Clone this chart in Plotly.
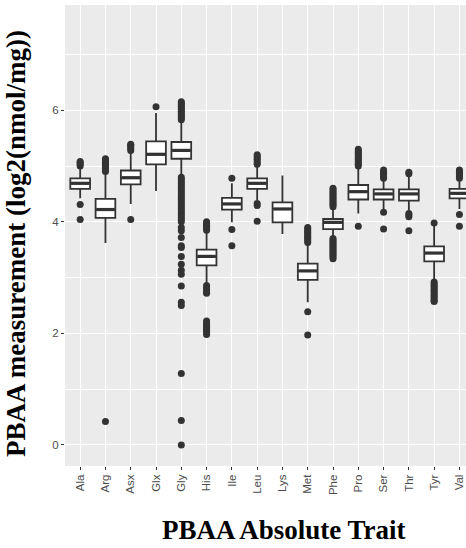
import plotly.graph_objects as go

categories = ["Ala", "Arg", "Asx", "Glx", "Gly", "His", "Ile", "Leu",
              "Lys", "Met", "Phe", "Pro", "Ser", "Thr", "Tyr", "Val"]

q1 =     [4.59, 4.07, 4.67, 5.03, 5.13, 3.22, 4.22, 4.59, 3.99, 2.96, 3.87, 4.40, 4.40, 4.38, 3.29, 4.42]
median = [4.69, 4.22, 4.79, 5.21, 5.28, 3.38, 4.32, 4.69, 4.23, 3.12, 3.99, 4.54, 4.50, 4.50, 3.44, 4.51]
q3 =     [4.78, 4.41, 4.92, 5.44, 5.43, 3.50, 4.43, 4.78, 4.35, 3.25, 4.05, 4.66, 4.58, 4.58, 3.56, 4.59]
lower =  [4.42, 3.62, 4.32, 4.55, 4.85, 2.88, 3.99, 4.38, 3.78, 2.56, 3.73, 4.15, 4.23, 4.20, 2.95, 4.23]
upper =  [4.96, 4.88, 5.25, 5.95, 5.78, 3.82, 4.69, 5.00, 4.83, 3.60, 4.22, 4.95, 4.76, 4.82, 3.93, 4.76]

outliers = {
    "Ala": [5.00, 5.03, 5.06, 5.08, 4.31, 4.04],
    "Arg": [4.90, 4.93, 4.96, 4.99, 5.02, 5.05, 5.08, 5.11, 5.13, 0.42],
    "Asx": [5.28, 5.31, 5.34, 5.37, 5.39, 4.04],
    "Glx": [6.06],
    "Gly": [5.83, 5.86, 5.89, 5.92, 5.95, 5.98, 6.01, 6.04, 6.07, 6.10, 6.13, 6.15,
            4.80, 4.76, 4.72, 4.68, 4.64, 4.60, 4.56, 4.52, 4.48, 4.44, 4.40,
            4.36, 4.32, 4.28, 4.24, 4.20, 4.16, 4.12, 4.08, 4.04, 4.00,
            3.90, 3.84, 3.72, 3.57, 3.54, 3.38, 3.24, 3.13, 3.06, 2.85, 2.56, 2.50,
            1.28, 0.44, 0.00],
    "His": [3.85, 3.88, 3.91, 3.94, 3.97, 4.00,
            2.86, 2.82, 2.78, 2.74, 2.72,
            2.22, 2.19, 2.16, 2.13, 2.10, 2.07, 2.04, 2.01, 1.98],
    "Ile": [4.78, 3.86, 3.57],
    "Leu": [5.03, 5.06, 5.09, 5.12, 5.15, 5.18, 5.20, 4.33, 4.29, 4.01],
    "Lys": [],
    "Met": [3.63, 3.66, 3.69, 3.72, 3.75, 3.78, 3.81, 3.84, 3.87, 3.90, 2.39, 1.97],
    "Phe": [4.27, 4.30, 4.33, 4.36, 4.39, 4.42, 4.45, 4.48, 4.51, 4.54, 4.57, 4.60,
            3.70, 3.67, 3.64, 3.61, 3.58, 3.55, 3.52, 3.49, 3.46, 3.43, 3.40, 3.37, 3.34],
    "Pro": [5.00, 5.03, 5.06, 5.09, 5.12, 5.15, 5.18, 5.21, 5.24, 5.27, 5.30, 3.92],
    "Ser": [4.78, 4.81, 4.84, 4.87, 4.90, 4.93, 4.17, 3.87],
    "Thr": [4.86, 4.89, 4.15, 4.12, 4.09, 3.84],
    "Tyr": [3.98, 2.92, 2.89, 2.86, 2.83, 2.80, 2.77, 2.74, 2.71, 2.68, 2.65,
            2.62, 2.59, 2.57],
    "Val": [4.78, 4.81, 4.84, 4.87, 4.90, 4.93, 4.13, 3.92],
}

BOX_W = 0.78
DARK = "#333333"
pos = list(range(len(categories)))

fig = go.Figure()

fig.add_trace(go.Box(
    x=pos, q1=q1, median=median, q3=q3,
    lowerfence=lower, upperfence=upper,
    width=BOX_W, whiskerwidth=0,
    fillcolor="white", line=dict(color=DARK, width=1.8),
    boxpoints=False, showlegend=False, hoverinfo="skip",
))

# thicker median lines (ggplot fatten)
mx, my = [], []
for i, m in zip(pos, median):
    mx += [i - BOX_W / 2 + 0.03, i + BOX_W / 2 - 0.03, None]
    my += [m, m, None]
fig.add_trace(go.Scatter(x=mx, y=my, mode="lines",
                         line=dict(color=DARK, width=3.2),
                         showlegend=False, hoverinfo="skip"))

ox, oy = [], []
for i, c in enumerate(categories):
    for v in outliers[c]:
        ox.append(i)
        oy.append(v)
fig.add_trace(go.Scatter(x=ox, y=oy, mode="markers",
                         marker=dict(color=DARK, size=7, line=dict(width=0)),
                         showlegend=False, hoverinfo="skip"))

tickfont = dict(family="Liberation Sans, Arial, sans-serif", size=11.5, color="#4D4D4D")
titlefont = dict(family="Liberation Serif, Times New Roman, serif", size=27, color="black")

fig.update_layout(
    width=466, height=548,
    margin=dict(l=65, r=0, t=5, b=82, autoexpand=False),
    paper_bgcolor="white", plot_bgcolor="#EBEBEB",
    xaxis=dict(
        range=[-0.6, 15.26], tickmode="array", tickvals=pos, ticktext=categories,
        tickangle=-90, ticks="outside", ticklen=3, tickwidth=1, tickcolor=DARK,
        showgrid=True, gridcolor="white", gridwidth=1.1, zeroline=False,
        showline=False, tickfont=tickfont, automargin=False,
    ),
    yaxis=dict(
        range=[-0.377, 7.886], tickmode="array", tickvals=[0, 2, 4, 6],
        ticks="outside", ticklen=3, tickwidth=1, tickcolor=DARK,
        showgrid=True, gridcolor="white", gridwidth=1.1, zeroline=False,
        showline=False, tickfont=tickfont, automargin=False,
        minor=dict(tickvals=[1, 3, 5, 7], showgrid=True, gridcolor="white",
                   gridwidth=0.55, ticks=""),
    ),
    annotations=[
        dict(text="<b>PBAA Absolute Trait</b>", xref="paper", yref="paper",
             x=0.546, y=-0.139, xanchor="center", yanchor="middle",
             showarrow=False, font=titlefont),
        dict(text="<b>PBAA measurement (log2(nmol/mg))</b>", xref="paper", yref="paper",
             x=-0.122, y=0.4816, xanchor="center", yanchor="middle",
             textangle=-90, showarrow=False, font=titlefont),
    ],
)

fig.write_html(
    "out.html",
    config={"displayModeBar": False},
    post_script="document.body.style.margin='0';document.body.style.overflow='hidden';",
)
